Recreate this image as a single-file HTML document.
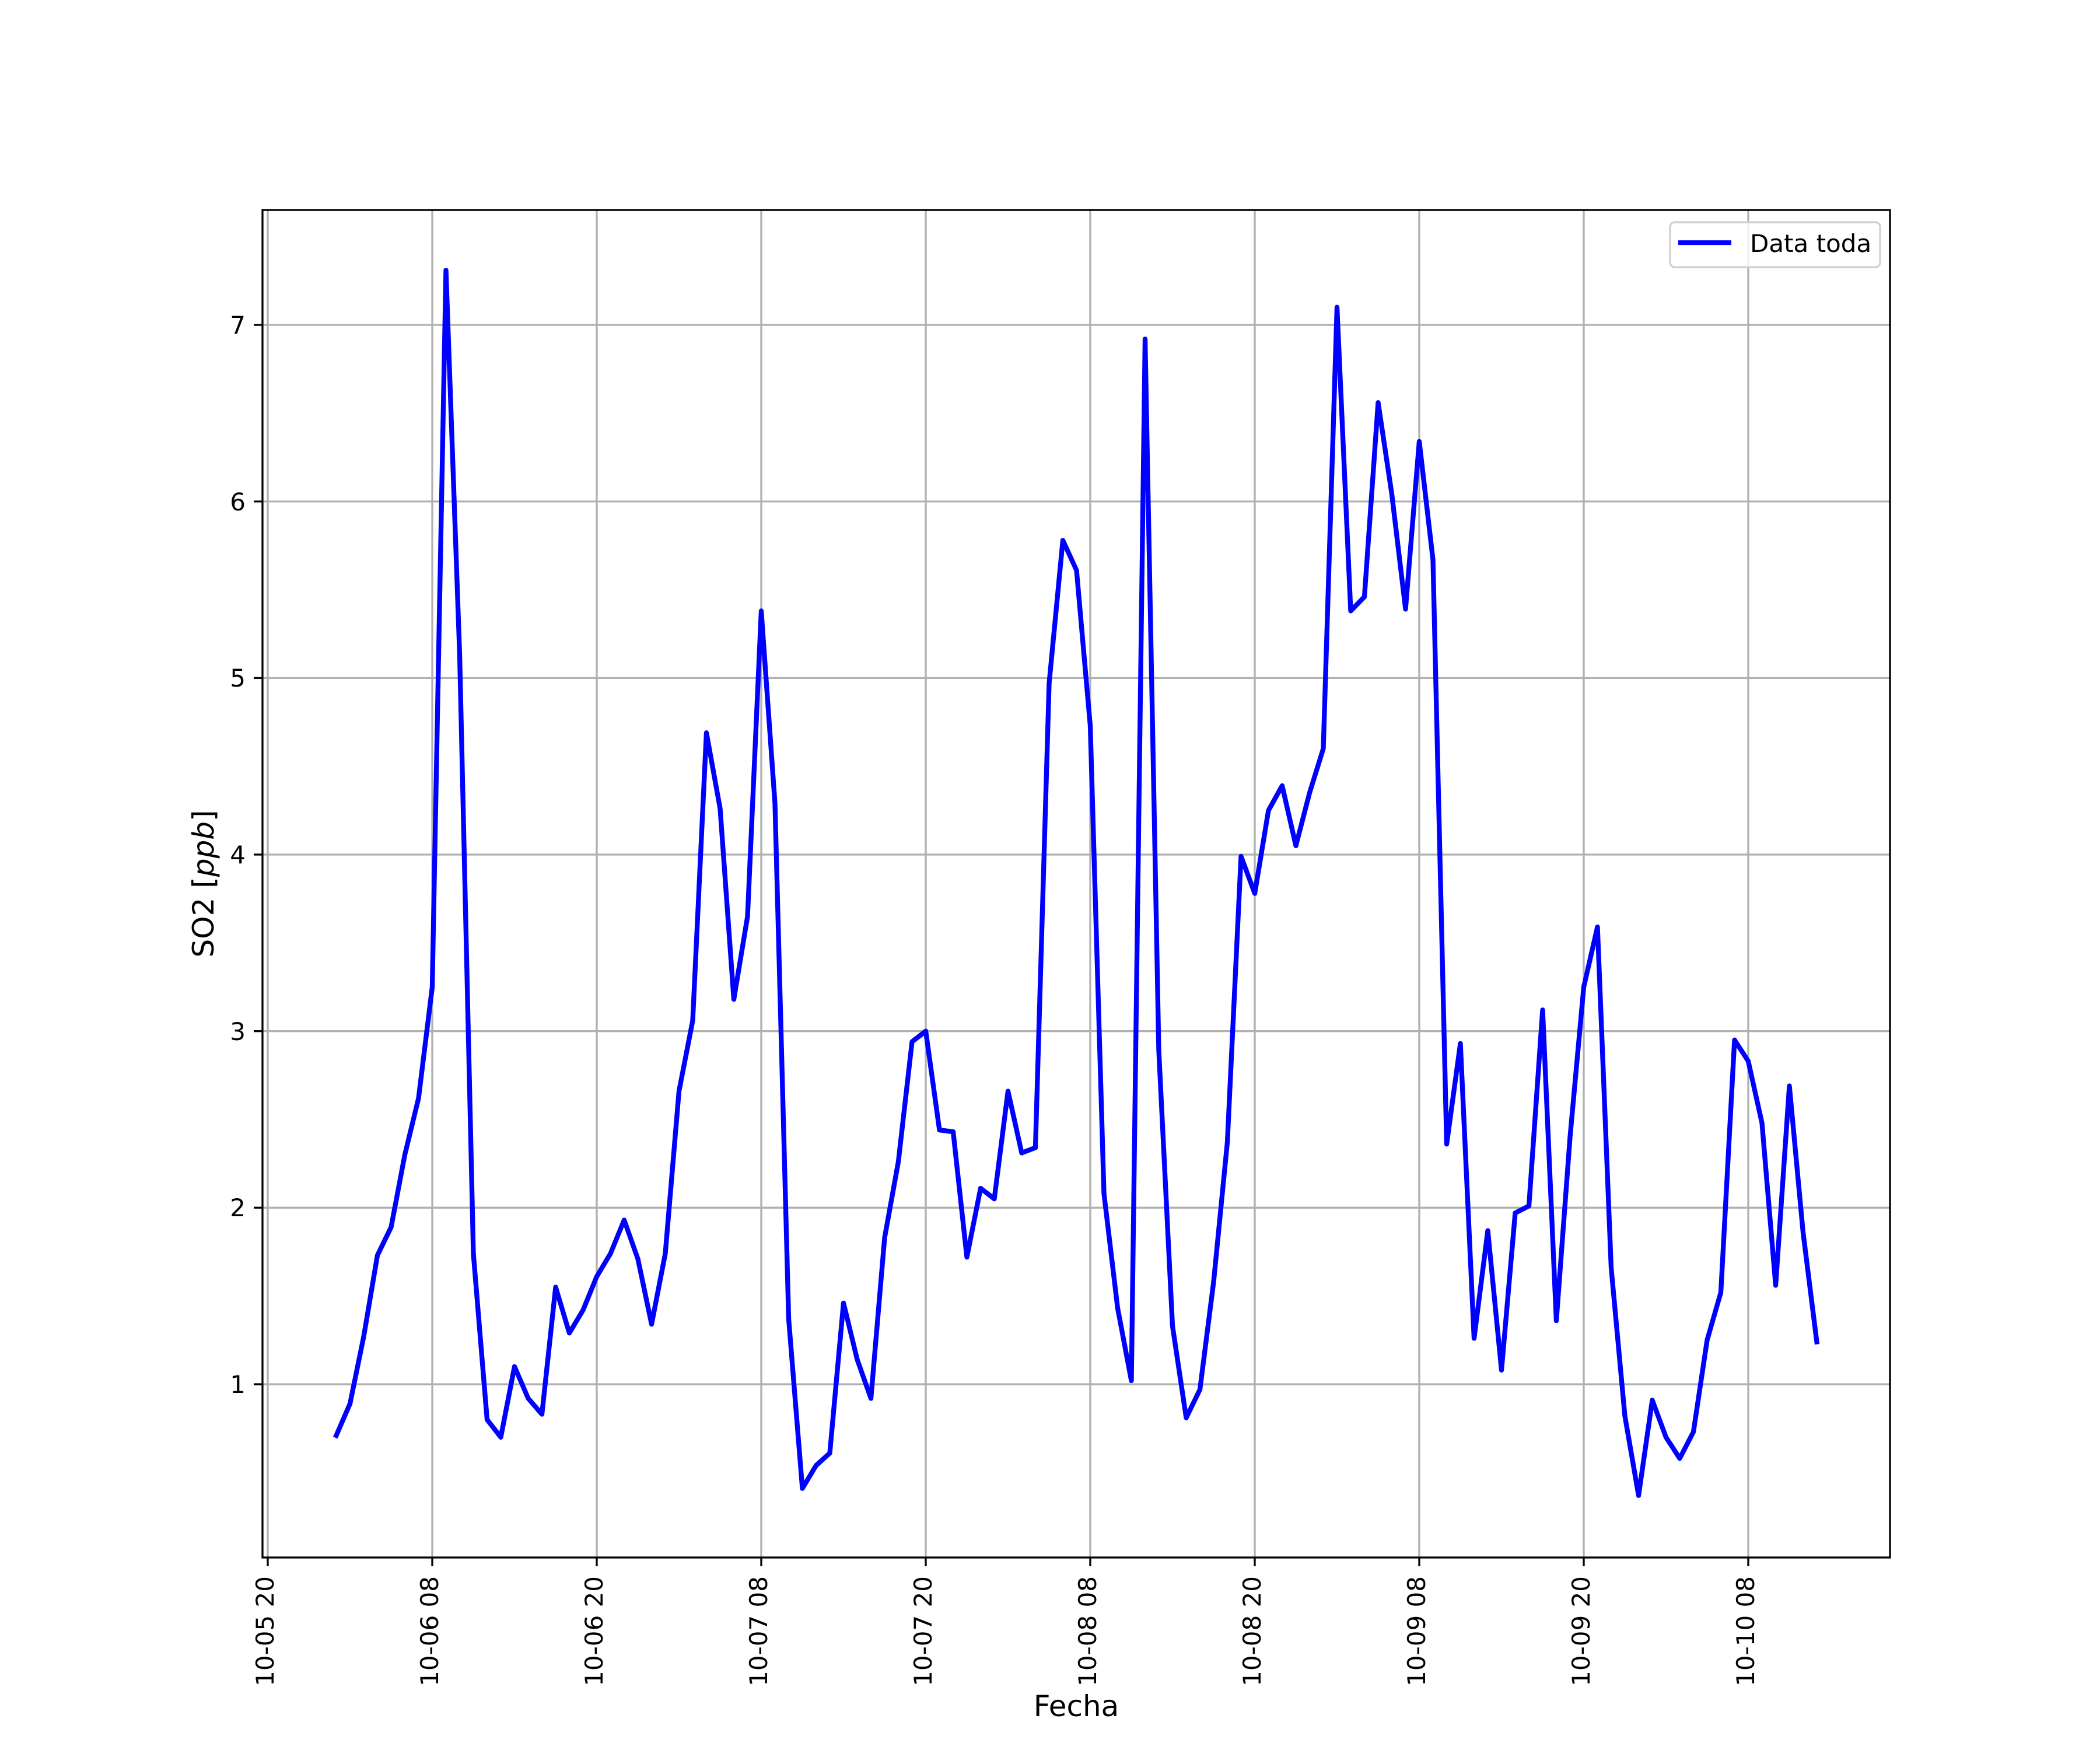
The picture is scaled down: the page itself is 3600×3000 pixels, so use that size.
<!DOCTYPE html>
<html><head><meta charset="utf-8"><style>html,body{margin:0;padding:0;background:#fff}svg{display:block}text{font-family:"DejaVu Sans","Liberation Sans",sans-serif;font-size:42px;fill:#000}</style></head><body>
<svg width="3600" height="3000" viewBox="0 0 3600 3000" xmlns="http://www.w3.org/2000/svg">
<rect width="3600" height="3000" fill="#fff"/>
<g stroke="#b0b0b0" stroke-width="3.3">
<line x1="459" y1="360" x2="459" y2="2670"/><line x1="741" y1="360" x2="741" y2="2670"/><line x1="1023" y1="360" x2="1023" y2="2670"/><line x1="1305" y1="360" x2="1305" y2="2670"/><line x1="1587" y1="360" x2="1587" y2="2670"/><line x1="1869" y1="360" x2="1869" y2="2670"/><line x1="2151" y1="360" x2="2151" y2="2670"/><line x1="2433" y1="360" x2="2433" y2="2670"/><line x1="2715" y1="360" x2="2715" y2="2670"/><line x1="2997" y1="360" x2="2997" y2="2670"/>
<line x1="450" y1="2373" x2="3240" y2="2373"/><line x1="450" y1="2070.3" x2="3240" y2="2070.3"/><line x1="450" y1="1767.7" x2="3240" y2="1767.7"/><line x1="450" y1="1465" x2="3240" y2="1465"/><line x1="450" y1="1162.3" x2="3240" y2="1162.3"/><line x1="450" y1="859.7" x2="3240" y2="859.7"/><line x1="450" y1="557" x2="3240" y2="557"/>
</g>
<g transform="matrix(23.5 0 0 -302.67 459 2675.67)">
<polyline fill="none" stroke="#0000ff" stroke-width="8.33" stroke-linejoin="round" stroke-linecap="square" vector-effect="non-scaling-stroke" points="5,0.71 6,0.89 7,1.27 8,1.73 9,1.89 10,2.30 11,2.62 12,3.25 13,7.31 14,5.13 15,1.74 16,0.80 17,0.70 18,1.10 19,0.92 20,0.83 21,1.55 22,1.29 23,1.42 24,1.61 25,1.74 26,1.93 27,1.71 28,1.34 29,1.74 30,2.66 31,3.06 32,4.69 33,4.26 34,3.18 35,3.65 36,5.38 37,4.29 38,1.37 39,0.41 40,0.54 41,0.61 42,1.46 43,1.14 44,0.92 45,1.83 46,2.26 47,2.94 48,3.00 49,2.44 50,2.43 51,1.72 52,2.11 53,2.05 54,2.66 55,2.31 56,2.34 57,4.97 58,5.78 59,5.61 60,4.73 61,2.08 62,1.43 63,1.02 64,6.92 65,2.89 66,1.33 67,0.81 68,0.97 69,1.58 70,2.37 71,3.99 72,3.78 73,4.25 74,4.39 75,4.05 76,4.35 77,4.60 78,7.10 79,5.38 80,5.46 81,6.56 82,6.04 83,5.39 84,6.34 85,5.67 86,2.36 87,2.93 88,1.26 89,1.87 90,1.08 91,1.97 92,2.01 93,3.12 94,1.36 95,2.40 96,3.25 97,3.59 98,1.66 99,0.82 100,0.37 101,0.91 102,0.70 103,0.58 104,0.73 105,1.25 106,1.52 107,2.95 108,2.83 109,2.48 110,1.56 111,2.69 112,1.86 113,1.24"/>
</g>
<rect x="450" y="360" width="2790" height="2310" fill="none" stroke="#000" stroke-width="3.3"/>
<g stroke="#000" stroke-width="3.3">
<line x1="435" y1="2373" x2="450" y2="2373"/><line x1="435" y1="2070.3" x2="450" y2="2070.3"/><line x1="435" y1="1767.7" x2="450" y2="1767.7"/><line x1="435" y1="1465" x2="450" y2="1465"/><line x1="435" y1="1162.3" x2="450" y2="1162.3"/><line x1="435" y1="859.7" x2="450" y2="859.7"/><line x1="435" y1="557" x2="450" y2="557"/>
<line x1="459" y1="2670" x2="459" y2="2685"/><line x1="741" y1="2670" x2="741" y2="2685"/><line x1="1023" y1="2670" x2="1023" y2="2685"/><line x1="1305" y1="2670" x2="1305" y2="2685"/><line x1="1587" y1="2670" x2="1587" y2="2685"/><line x1="1869" y1="2670" x2="1869" y2="2685"/><line x1="2151" y1="2670" x2="2151" y2="2685"/><line x1="2433" y1="2670" x2="2433" y2="2685"/><line x1="2715" y1="2670" x2="2715" y2="2685"/><line x1="2997" y1="2670" x2="2997" y2="2685"/>
</g>
<g text-anchor="end">
<text x="421" y="2388">1</text><text x="421" y="2085">2</text><text x="421" y="1783">3</text><text x="421" y="1480">4</text><text x="421" y="1177">5</text><text x="421" y="875">6</text><text x="421" y="572">7</text>
<text transform="translate(469,2702) rotate(-90)">10-05 20</text>
<text transform="translate(751,2702) rotate(-90)">10-06 08</text>
<text transform="translate(1033,2702) rotate(-90)">10-06 20</text>
<text transform="translate(1315,2702) rotate(-90)">10-07 08</text>
<text transform="translate(1597,2702) rotate(-90)">10-07 20</text>
<text transform="translate(1879,2702) rotate(-90)">10-08 08</text>
<text transform="translate(2161,2702) rotate(-90)">10-08 20</text>
<text transform="translate(2443,2702) rotate(-90)">10-09 08</text>
<text transform="translate(2725,2702) rotate(-90)">10-09 20</text>
<text transform="translate(3007,2702) rotate(-90)">10-10 08</text>
</g>
<text x="1845" y="2942" text-anchor="middle" style="font-size:50px">Fecha</text>
<text transform="translate(366,1515) rotate(-90)" text-anchor="middle" style="font-size:50px">SO2 [<tspan font-style="italic">ppb</tspan>]</text>
<rect x="2863" y="381" width="360" height="77" rx="8" fill="#fff" fill-opacity="0.8" stroke="#d0d0d0" stroke-width="3.3"/>
<line x1="2877" y1="416" x2="2968" y2="416" stroke="#0000ff" stroke-width="8.33"/>
<text x="3000" y="432">Data toda</text>
</svg>
</body></html>
